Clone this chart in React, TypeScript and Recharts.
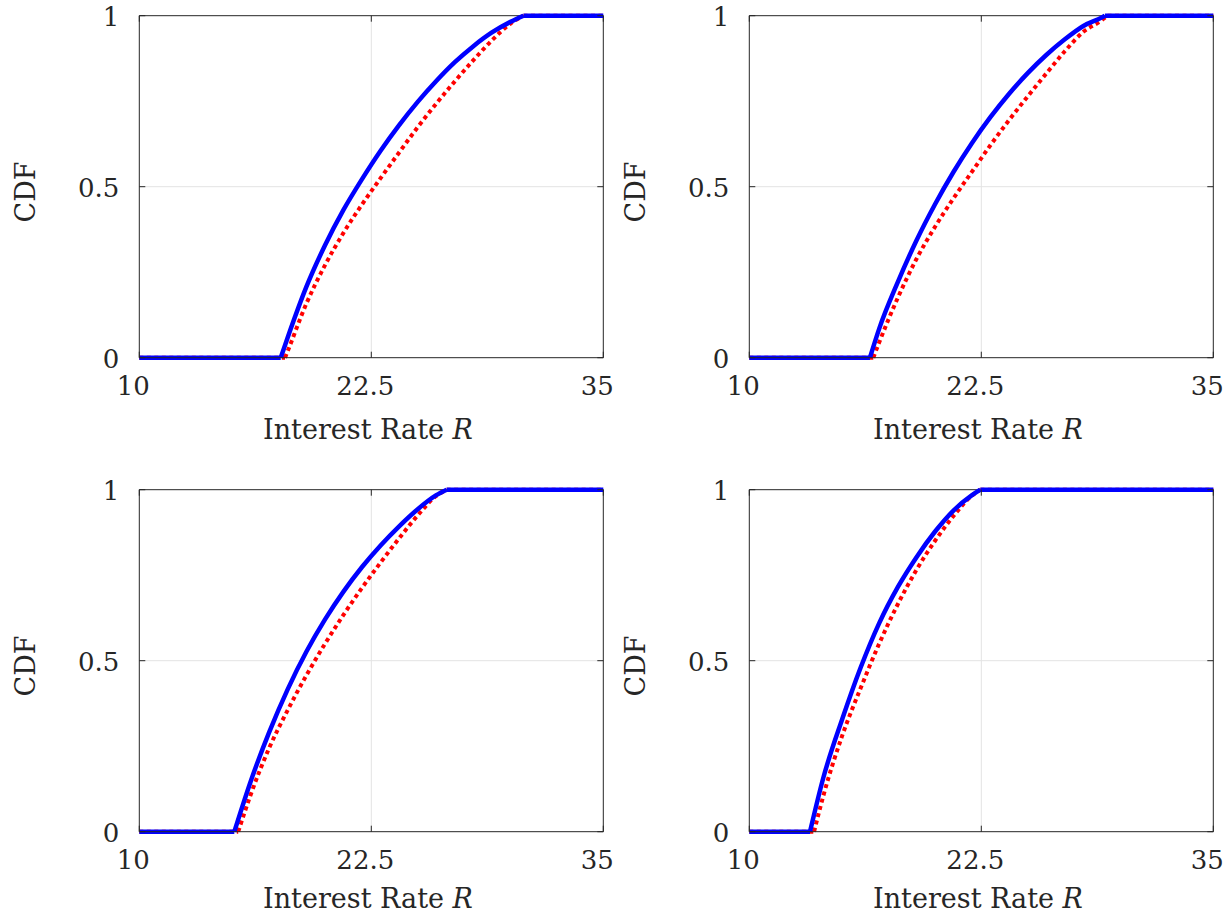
import { CartesianGrid, Label, Line, LineChart, ReferenceLine, XAxis, YAxis } from 'recharts';

const X_TICKS = [10, 22.5, 35];
const Y_TICKS = [0, 0.5, 1];

// top left
const p1BlueX = [10, 17.62, 18, 19, 20, 21, 22, 23, 24, 25, 26, 27, 28, 29, 30, 30.7, 35];
const p1Blue = [0, 0, 0.06, 0.207, 0.328, 0.432, 0.522, 0.605, 0.68, 0.748, 0.809, 0.864, 0.911, 0.951, 0.982, 1, 1];
const p1RedX = [10, 17.85, 18, 19, 20, 21, 22, 23, 24, 25, 26, 27, 28, 29, 30, 30.7, 35];
const p1Red = [0, 0, 0.02, 0.158, 0.27, 0.365, 0.448, 0.525, 0.6, 0.674, 0.743, 0.808, 0.87, 0.928, 0.977, 1, 1];

// top right
const p2BlueX = [10, 16.5, 17, 18, 19, 20, 21, 22, 23, 24, 25, 26, 27, 28, 29, 29.16, 35];
const p2Blue = [0, 0, 0.085, 0.221, 0.342, 0.448, 0.543, 0.628, 0.704, 0.772, 0.832, 0.885, 0.931, 0.97, 0.995, 1, 1];
const p2RedX = [10, 16.68, 17, 18, 19, 20, 21, 22, 23, 24, 25, 26, 27, 28, 29, 29.3, 35];
const p2Red = [0, 0, 0.045, 0.175, 0.288, 0.382, 0.466, 0.544, 0.622, 0.695, 0.764, 0.831, 0.896, 0.953, 0.987, 1, 1];

// bottom left
const p3BlueX = [10, 15.12, 16, 17, 18, 19, 20, 21, 22, 23, 24, 25, 26, 26.56, 35];
const p3Blue = [0, 0, 0.147, 0.291, 0.417, 0.526, 0.62, 0.702, 0.774, 0.837, 0.893, 0.943, 0.984, 1, 1];
const p3RedX = [10, 15.33, 16, 17, 18, 19, 20, 21, 22, 23, 24, 25, 26, 26.56, 35];
const p3Red = [0, 0, 0.108, 0.245, 0.356, 0.457, 0.549, 0.634, 0.713, 0.787, 0.858, 0.925, 0.982, 1, 1];

// bottom right
const p4BlueX = [10, 13.27, 14, 15, 16, 17, 18, 19, 20, 21, 22, 22.45, 35];
const p4Blue = [0, 0, 0.16, 0.328, 0.48, 0.61, 0.715, 0.802, 0.877, 0.939, 0.984, 1, 1];
const p4RedX = [10, 13.49, 14, 15, 16, 17, 18, 19, 20, 21, 22, 22.45, 35];
const p4Red = [0, 0, 0.107, 0.28, 0.42, 0.55, 0.665, 0.765, 0.85, 0.923, 0.983, 1, 1];

const FONT = '"DejaVu Serif", serif';
const AXIS = '#262626';
const GRID = '#e3e3e3';
const PLOT_LEFT = 139.3;
const PLOT_TOP = 15.7;
const PLOT_W = 464;
const PLOT_H = 342;
const CHART_W = 640;

type Pt = { x: number; y: number };

// flat 0 part, rising part, flat 1 part -- kept apart so the corners stay sharp
function pieces(xs: number[], ys: number[]): Pt[][] {
    const pts = xs.map((x, i) => ({ x, y: ys[i] }));
    const a = ys.lastIndexOf(0);
    const b = ys.indexOf(1);
    return [pts.slice(0, a + 1), pts.slice(a, b + 1), pts.slice(b)];
}

function XTick({ x, y, payload }: any) {
    return (
        <g>
            <line x1={x} y1={y} x2={x} y2={y - 6} stroke={AXIS} />
            <line x1={x} y1={y - PLOT_H} x2={x} y2={y - PLOT_H + 6} stroke={AXIS} />
            <text x={x - 6} y={y + 37} textAnchor="middle" fontFamily={FONT} fontSize={26} fill={AXIS}>
                {payload.value}
            </text>
        </g>
    );
}

function YTick({ x, y, payload }: any) {
    return (
        <g>
            <line x1={x} y1={y} x2={x + 6} y2={y} stroke={AXIS} />
            <line x1={x + PLOT_W} y1={y} x2={x + PLOT_W - 6} y2={y} stroke={AXIS} />
            <text x={x - 20} y={y + 10} textAnchor="end" fontFamily={FONT} fontSize={26} fill={AXIS}>
                {payload.value}
            </text>
        </g>
    );
}

const XTitle = ({ baseline }: { baseline: number }) => (
    <text x={368} y={baseline} textAnchor="middle" fontFamily={FONT} fontSize={27} fill={AXIS}>
        Interest Rate <tspan fontStyle="italic">R</tspan>
    </text>
);

const YTitle = () => (
    <text
        x={25}
        y={192}
        transform="rotate(-90, 25, 192)"
        textAnchor="middle"
        dominantBaseline="central"
        fontFamily={FONT}
        fontSize={27}
        fill={AXIS}
    >
        CDF
    </text>
);

type PanelProps = { blue: Pt[][]; red: Pt[][]; left: number; top: number; height: number; titleY: number };

function Panel({ blue, red, left, top, height, titleY }: PanelProps) {
    return (
        <div style={{ position: 'absolute', left, top }}>
            <LineChart
                width={CHART_W}
                height={height}
                margin={{
                    top: PLOT_TOP,
                    left: PLOT_LEFT - 60,
                    right: CHART_W - PLOT_LEFT - PLOT_W,
                    bottom: height - PLOT_TOP - PLOT_H - 80,
                }}
            >
                <CartesianGrid stroke={GRID} horizontalValues={[0.5]} verticalValues={[22.5]} />
                <XAxis
                    dataKey="x"
                    type="number"
                    domain={[10, 35]}
                    ticks={X_TICKS}
                    height={80}
                    tickSize={0}
                    tickMargin={0}
                    tickLine={false}
                    tick={<XTick />}
                    axisLine={{ stroke: AXIS }}
                    interval={0}
                    allowDuplicatedCategory={false}
                >
                    <Label content={<XTitle baseline={titleY} />} />
                </XAxis>
                <YAxis
                    type="number"
                    domain={[0, 1]}
                    ticks={Y_TICKS}
                    width={60}
                    tickSize={0}
                    tickMargin={0}
                    tickLine={false}
                    tick={<YTick />}
                    axisLine={{ stroke: AXIS }}
                    interval={0}
                >
                    <Label content={<YTitle />} />
                </YAxis>
                <ReferenceLine y={1} stroke={AXIS} />
                <ReferenceLine x={35} stroke={AXIS} />
                {red.map((seg, i) => (
                    <Line
                        key={'r' + i}
                        data={seg}
                        dataKey="y"
                        type={i === 1 ? 'monotone' : 'linear'}
                        stroke="#ff0000"
                        strokeWidth={4}
                        strokeDasharray="4 3.5"
                        dot={false}
                        isAnimationActive={false}
                    />
                ))}
                {blue.map((seg, i) => (
                    <Line
                        key={'b' + i}
                        data={seg}
                        dataKey="y"
                        type={i === 1 ? 'monotone' : 'linear'}
                        stroke="#0000ff"
                        strokeWidth={4.5}
                        dot={false}
                        isAnimationActive={false}
                    />
                ))}
            </LineChart>
        </div>
    );
}

export default function App() {
    return (
        <div
            style={{
                position: 'absolute',
                left: 0,
                top: 0,
                width: 1229,
                height: 915,
                overflow: 'hidden',
                background: '#fff',
            }}
        >
            <Panel blue={pieces(p1BlueX, p1Blue)} red={pieces(p1RedX, p1Red)} left={0} top={0} height={460} titleY={439} />
            <Panel blue={pieces(p2BlueX, p2Blue)} red={pieces(p2RedX, p2Red)} left={610} top={0} height={460} titleY={439} />
            <Panel blue={pieces(p3BlueX, p3Blue)} red={pieces(p3RedX, p3Red)} left={0} top={474} height={441} titleY={434} />
            <Panel blue={pieces(p4BlueX, p4Blue)} red={pieces(p4RedX, p4Red)} left={610} top={474} height={441} titleY={434} />
        </div>
    );
}
